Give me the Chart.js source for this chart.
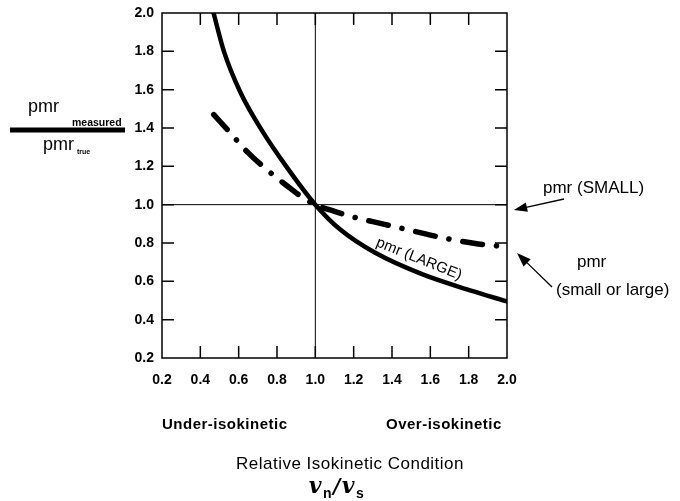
<!DOCTYPE html>
<html>
<head>
<meta charset="utf-8">
<script src="https://cdn.jsdelivr.net/npm/chart.js@4.4.1/dist/chart.umd.min.js"></script>
<style>
  body { margin: 0; background: #fff; }
  canvas { display: block; }
</style>
</head>
<body>
<canvas id="chart" width="680" height="501"></canvas>
<script>
// tick values for both axes
const xTicks = [0.2, 0.4, 0.6, 0.8, 1.0, 1.2, 1.4, 1.6, 1.8, 2.0];
const yTicks = [0.2, 0.4, 0.6, 0.8, 1.0, 1.2, 1.4, 1.6, 1.8, 2.0];

// pmr (LARGE) - solid curve
const largeX = [0.469, 0.523, 0.612, 0.726, 0.848, 1.0, 1.13, 1.31, 1.56, 1.817, 2.0];
const largeY = [2.0, 1.80, 1.58, 1.38, 1.20, 1.0, 0.87, 0.75, 0.636, 0.55, 0.495];

// pmr (small or large) - dash-dot curve
const anyX = [0.47, 0.56, 0.65, 0.75, 0.85, 0.93, 1.0, 1.1, 1.2, 1.35, 1.5, 1.67, 1.85, 2.0];
const anyY = [1.47, 1.37, 1.27, 1.18, 1.10, 1.04, 1.0, 0.965, 0.935, 0.9, 0.865, 0.826, 0.795, 0.78];

const FONT = '"Liberation Sans", Arial, sans-serif';
const SERIF = '"DejaVu Serif", "Liberation Serif", serif';

function toPoints(xs, ys) {
	return xs.map((x, i) => ({ x: x, y: ys[i] }));
}

function arrow(ctx, x1, y1, x2, y2, head) {
	const a = Math.atan2(y2 - y1, x2 - x1);
	ctx.beginPath();
	ctx.moveTo(x1, y1);
	ctx.lineTo(x2 - Math.cos(a) * head * 0.8, y2 - Math.sin(a) * head * 0.8);
	ctx.stroke();
	ctx.beginPath();
	ctx.moveTo(x2, y2);
	ctx.lineTo(x2 - Math.cos(a - 0.35) * head, y2 - Math.sin(a - 0.35) * head);
	ctx.lineTo(x2 - Math.cos(a + 0.35) * head, y2 - Math.sin(a + 0.35) * head);
	ctx.closePath();
	ctx.fill();
}

// frame, inner ticks and the 1.0 reference lines
const framePlugin = {
	id: 'framePlugin',
	beforeDraw(chart) {
		const ctx = chart.ctx;
		ctx.save();
		ctx.fillStyle = '#fff';
		ctx.fillRect(0, 0, chart.width, chart.height);
		ctx.restore();
	},
	beforeDatasetsDraw(chart) {
		const ctx = chart.ctx;
		const a = chart.chartArea;
		const xs = chart.scales.x;
		const ys = chart.scales.y;
		const tl = 12;
		ctx.save();
		ctx.strokeStyle = '#000';
		ctx.lineWidth = 1.5;
		ctx.strokeRect(a.left, a.top, a.right - a.left, a.bottom - a.top);
		ctx.beginPath();
		xTicks.slice(1, -1).forEach(v => {
			const px = xs.getPixelForValue(v);
			ctx.moveTo(px, a.bottom); ctx.lineTo(px, a.bottom - tl);
			ctx.moveTo(px, a.top); ctx.lineTo(px, a.top + tl);
		});
		yTicks.slice(1, -1).forEach(v => {
			const py = ys.getPixelForValue(v);
			ctx.moveTo(a.left, py); ctx.lineTo(a.left + tl, py);
			ctx.moveTo(a.right, py); ctx.lineTo(a.right - tl, py);
		});
		ctx.stroke();
		// reference lines at 1.0
		ctx.lineWidth = 1;
		ctx.beginPath();
		const x1 = xs.getPixelForValue(1.0);
		const y1 = ys.getPixelForValue(1.0);
		ctx.moveTo(x1, a.top); ctx.lineTo(x1, a.bottom);
		ctx.moveTo(a.left, y1); ctx.lineTo(a.right, y1);
		ctx.stroke();
		ctx.restore();
	},
	afterDraw(chart) {
		const ctx = chart.ctx;
		ctx.save();
		ctx.fillStyle = '#000';
		ctx.strokeStyle = '#000';

		// y axis title as a fraction
		ctx.textBaseline = 'alphabetic';
		ctx.textAlign = 'left';
		ctx.font = '18px ' + FONT;
		ctx.fillText('pmr', 28, 112);
		ctx.fillText('pmr', 43, 150);
		ctx.font = 'bold 10.5px ' + FONT;
		ctx.fillText('measured', 72, 126);
		ctx.font = 'bold 7px ' + FONT;
		ctx.fillText('true', 77, 154);
		ctx.lineWidth = 5;
		ctx.beginPath();
		ctx.moveTo(10, 130); ctx.lineTo(125, 130);
		ctx.stroke();

		// curve label
		ctx.save();
		ctx.translate(419, 259);
		ctx.rotate(22 * Math.PI / 180);
		ctx.font = '15px ' + FONT;
		ctx.textAlign = 'center';
		ctx.textBaseline = 'middle';
		ctx.fillText('pmr (LARGE)', 0, 0);
		ctx.restore();

		// right side annotations
		ctx.font = '17px ' + FONT;
		ctx.textAlign = 'left';
		ctx.textBaseline = 'middle';
		ctx.fillText('pmr (SMALL)', 543, 188);
		ctx.fillText('pmr', 577, 262);
		ctx.fillText('(small or large)', 556, 290);
		ctx.lineWidth = 1.3;
		arrow(ctx, 564, 199, 514, 210, 14);
		arrow(ctx, 552, 287, 517, 253, 15);

		// bottom texts
		ctx.textAlign = 'left';
		ctx.font = 'bold 15px ' + FONT;
		ctx.letterSpacing = '0.5px';
		ctx.fillText('Under-isokinetic', 162, 425);
		ctx.fillText('Over-isokinetic', 386, 425);
		ctx.font = '17px ' + FONT;
		ctx.textAlign = 'center';
		ctx.fillText('Relative Isokinetic Condition', 350, 464);
		ctx.letterSpacing = '0px';

		// v_n / v_s
		const parts = [
			['v', 'italic bold 22px ' + SERIF, 0],
			['n', 'bold 14px ' + FONT, 5],
			['/', 'italic bold 20px ' + SERIF, 0],
			['v', 'italic bold 22px ' + SERIF, 0],
			['s', 'bold 14px ' + FONT, 5]
		];
		const gap = 1.5;
		let total = 0;
		parts.forEach(p => { ctx.font = p[1]; total += ctx.measureText(p[0]).width + gap; });
		let cx = 337 - total / 2;
		ctx.textAlign = 'left';
		ctx.textBaseline = 'alphabetic';
		parts.forEach(p => {
			ctx.font = p[1];
			ctx.fillText(p[0], cx, 493 + p[2]);
			cx += ctx.measureText(p[0]).width + gap;
		});
		ctx.restore();
	}
};

new Chart(document.getElementById('chart'), {
	type: 'scatter',
	data: {
		datasets: [
			{
				label: 'pmr (LARGE)',
				data: toPoints(largeX, largeY),
				showLine: true,
				borderColor: '#000',
				borderWidth: 4.5,
				pointRadius: 0,
				cubicInterpolationMode: 'monotone',
				borderCapStyle: 'round'
			},
			{
				label: 'pmr (small or large)',
				data: toPoints(anyX, anyY),
				showLine: true,
				borderColor: '#000',
				borderWidth: 5.5,
				pointRadius: 0,
				cubicInterpolationMode: 'monotone',
				borderCapStyle: 'round',
				borderDash: [20, 14, 0.1, 14]
			}
		]
	},
	options: {
		responsive: false,
		animation: false,
		layout: {
			padding: { left: 122, right: 173, top: 13, bottom: 113 }
		},
		plugins: {
			legend: { display: false },
			tooltip: { enabled: false }
		},
		scales: {
			x: {
				type: 'linear',
				min: 0.2,
				max: 2.0,
				afterFit: s => { s.height = 30; },
				afterBuildTicks: s => { s.ticks = xTicks.map(v => ({ value: v })); },
				grid: { display: false },
				border: { display: false },
				ticks: {
					padding: 6,
					color: '#000',
					font: { family: FONT, size: 14, weight: 'bold' },
					callback: v => v.toFixed(1)
				}
			},
			y: {
				type: 'linear',
				min: 0.2,
				max: 2.0,
				afterFit: s => { s.width = 40; },
				afterBuildTicks: s => { s.ticks = yTicks.map(v => ({ value: v })); },
				grid: { display: false },
				border: { display: false },
				ticks: {
					padding: 0,
					color: '#000',
					font: { family: FONT, size: 14, weight: 'bold' },
					callback: v => v.toFixed(1)
				}
			}
		}
	},
	plugins: [framePlugin]
});
</script>
</body>
</html>
